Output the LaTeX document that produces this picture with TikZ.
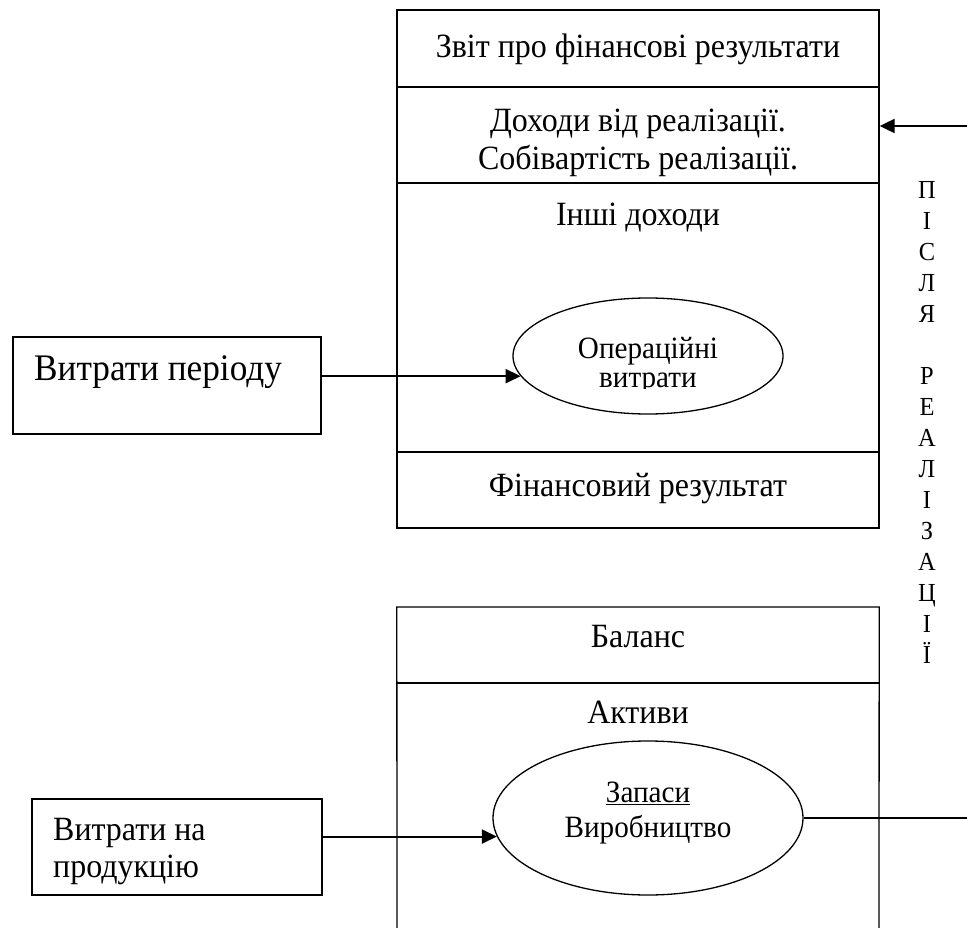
\documentclass[tikz,border=0pt]{standalone}
\usepackage{fontspec}
\setmainfont{Liberation Serif}[FakeStretch=0.94]
\usetikzlibrary{shapes.geometric,arrows.meta}
\newcommand\fmain{\fontsize{34}{40}\selectfont}
\newcommand\foval{\fontsize{31}{36}\selectfont}
\newcommand\fbig{\fontsize{37.5}{44}\selectfont}
\newcommand\fcol{\fontsize{26}{31}\selectfont}
\tikzset{
  txt/.style={font=\fmain, inner sep=0pt, anchor=base},
  otxt/.style={font=\foval, inner sep=0pt, anchor=base},
  boxline/.style={draw, line width=1.3pt},
  frame/.style={boxline, rectangle, inner sep=0pt},
  oval/.style={boxline, ellipse, inner sep=0pt},
  conn/.style={line width=2pt},
  arr/.style={conn, -{Triangle[length=15pt,width=14pt]}},
}
\begin{document}
\begin{tikzpicture}[x=1pt,y=-1pt]
\useasboundingbox (0,0) rectangle (967,928);
% top report box
\node[frame, minimum width=482pt, minimum height=518pt] (fr) at (638,269) {};
\draw[boxline] (fr.west |- 0,87) -- (fr.east |- 0,87);
\draw[boxline] (fr.west |- 0,183) -- (fr.east |- 0,183);
\draw[boxline] (fr.west |- 0,452) -- (fr.east |- 0,452);
\node[txt] (t1) at (638,58) {Звіт про фінансові результати};
\node[txt] (t2) at (638,132) {Доходи від реалізації.};
\node[txt] (t3) at (638,170) {Собівартість реалізації.};
\node[txt] (t4) at (638,226) {Інші доходи};
\node[txt] (t5) at (638,496) {Фінансовий результат};
% ellipse 1
\node[oval, minimum width=270pt, minimum height=116pt] (e1) at (648,356) {};
\node[otxt] (e1a) at (648,358) {Операційні};
\begin{scope}
\clip (500,300) rectangle (800,388.5);
\node[otxt] (e1b) at (648,387) {витрати};
\end{scope}
% left box 1
\node[frame, minimum width=308pt, minimum height=97pt] (b1) at (167,385.5) {};
\node[txt, font=\fbig, anchor=base west] (b1t) at (34,380) {Витрати періоду};
\draw[arr] (e1.189.5 -| b1.east) -- (e1.189.5);
% bottom balance box
\coordinate (bl) at (397,928);
\coordinate (br) at (879,928);
\node[inner sep=0pt, minimum width=482pt, minimum height=0pt] (bt) at (638,607) {};
\draw[boxline] (bl) -- (bt.west) -- (bt.east) -- (br);
\draw[boxline] (bt.west |- 0,683) -- (bt.east |- 0,683);
\node[txt] (t6) at (638,647) {Баланс};
\node[txt] (t7) at (638,723) {Активи};
% ellipse 2
\node[oval, minimum width=310pt, minimum height=154pt] (e2) at (648,818) {};
\node[otxt] (e2a) at (648,802) {\underline{Запаси}};
\node[otxt] (e2b) at (648,837) {Виробництво};
% left box 2
\node[frame, minimum width=290pt, minimum height=96pt] (b2) at (177,847) {};
\node[txt, anchor=base west] (b2t1) at (53,840) {Витрати на};
\node[txt, anchor=base west] (b2t2) at (53,877) {продукцію};
\draw[arr] (e2.187.2 -| b2.east) -- (e2.187.2);
% right connectors
\coordinate (rin) at (967,126);
\draw[arr] (rin) -- (rin -| fr.east);
\coordinate (rout) at (967,818);
\draw[conn] (e2.east) -- (rout);
% vertical label
\node[font=\fcol, inner sep=0pt, anchor=base, align=center] (col) at (927,663)
  {П\\І\\С\\Л\\Я\\[31pt]Р\\Е\\А\\Л\\І\\З\\А\\Ц\\І\\Ї};
\end{tikzpicture}
\end{document}
